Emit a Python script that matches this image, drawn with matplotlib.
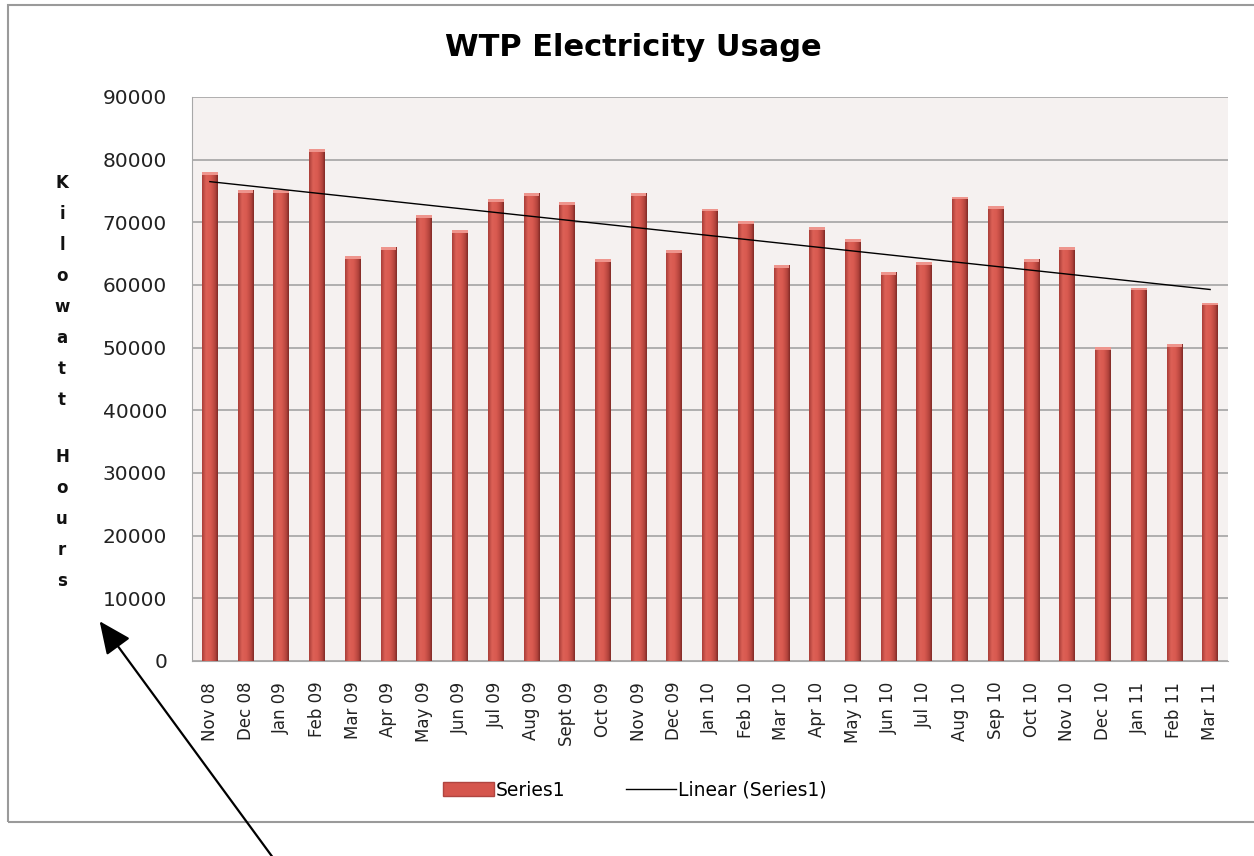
import numpy as np
import matplotlib
matplotlib.use('Agg')
import matplotlib.pyplot as plt
from matplotlib.colors import LinearSegmentedColormap
from matplotlib.patches import Rectangle, FancyArrowPatch, Patch
from matplotlib.lines import Line2D

# monthly kWh
months = ['Nov 08', 'Dec 08', 'Jan 09', 'Feb 09', 'Mar 09', 'Apr 09', 'May 09',
          'Jun 09', 'Jul 09', 'Aug 09', 'Sept 09', 'Oct 09', 'Nov 09', 'Dec 09',
          'Jan 10', 'Feb 10', 'Mar 10', 'Apr 10', 'May 10', 'Jun 10', 'Jul 10',
          'Aug 10', 'Sep 10', 'Oct 10', 'Nov 10', 'Dec 10', 'Jan 11', 'Feb 11',
          'Mar 11']
usage = [78000, 75100, 75100, 81700, 64600, 66100, 71200, 68700, 73700,
         74700, 73200, 64100, 74700, 65600, 72200, 70200, 63200, 69300,
         67300, 62100, 63600, 74100, 72600, 64100, 66100, 50050, 59600,
         50600, 57200]
yticks = [0, 10000, 20000, 30000, 40000, 50000, 60000, 70000, 80000, 90000]
ylabel = 'Kilowatt Hours'

W, H = 1254, 856
fig = plt.figure(figsize=(W / 100, H / 100), dpi=100)
fig.patch.set_facecolor('white')

# chart border
fig.add_artist(Rectangle((8 / W, 1 - 822 / H), 1.2, 817 / H, transform=fig.transFigure,
                         fill=False, edgecolor='#9a9a9a', lw=1.5))

ax = fig.add_axes([192 / W, 1 - 661 / H, 1036 / W, 564 / H])
ax.set_facecolor('#f5f1f0')

x = np.arange(len(months))
bars = ax.bar(x, usage, width=0.44, color='#d5564d', edgecolor='none', zorder=3)

# shaded look of the bars
cmap = LinearSegmentedColormap.from_list('bar', [(0, '#a83d37'), (0.25, '#dd6157'),
                                                 (0.55, '#d8594f'), (0.85, '#b2433c'),
                                                 (1, '#7e2925')])
grad = np.linspace(0, 1, 64).reshape(1, -1)
for b in bars:
    bx, by = b.get_x(), b.get_y()
    bw, bh = b.get_width(), b.get_height()
    im = ax.imshow(grad, extent=[bx, bx + bw, by, by + bh], aspect='auto',
                   cmap=cmap, zorder=3.5, interpolation='bicubic')
    im.set_clip_path(b)
    ax.add_patch(Rectangle((bx, by + bh - 450), bw, 450, color='#ee958d', lw=0, zorder=4))

# linear trend
coef = np.polyfit(x, usage, 1)
ax.plot(x, np.polyval(coef, x), color='black', lw=1, zorder=5)

ax.set_xlim(-0.5, len(months) - 0.5)
ax.set_ylim(0, 90000)
ax.set_yticks(yticks)
ax.set_yticklabels([str(v) for v in yticks], fontsize=14.5, color='#222222')
ax.set_xticks(x)
ax.set_xticklabels(months, rotation=90, fontsize=12, color='#222222', va='top')
ax.tick_params(axis='y', length=0, pad=18)
ax.tick_params(axis='x', length=0, pad=15)
ax.grid(axis='y', color='#a4a4a4', lw=1.2, zorder=1)
for s in ['top', 'right']:
    ax.spines[s].set_visible(False)
ax.spines['left'].set_color('#a8a8a8')
ax.spines['bottom'].set_color('#a8a8a8')
ax.spines['left'].set_zorder(6)

fig.text(633 / W, 1 - 47 / H, 'WTP Electricity Usage', ha='center', va='center',
         fontsize=22, fontweight='bold')

# stacked axis title
yy = 183
for ch in ylabel:
    if ch == ' ':
        yy += 26
        continue
    fig.text(62 / W, 1 - yy / H, ch, ha='center', va='center', fontsize=12,
             fontweight='bold', color='#111111')
    yy += 31

handles = [Patch(facecolor='#d5564d', edgecolor='#b04540'),
           Line2D([0], [0], color='black', lw=1)]
fig.legend(handles, ['Series1', 'Linear (Series1)'], loc='center', ncol=2,
           bbox_to_anchor=(635 / W, 1 - 790 / H), frameon=False, fontsize=13.5,
           handlelength=2.7, columnspacing=3.2, handletextpad=0.1)

# pointer arrow
fig.add_artist(FancyArrowPatch((278 / W, -0.01), (98 / W, 1 - 619 / H),
                               transform=fig.transFigure,
                               arrowstyle='-|>,head_length=1.0,head_width=0.45',
                               mutation_scale=20, color='black', lw=1.6))

fig.savefig('out.png', dpi=100)
